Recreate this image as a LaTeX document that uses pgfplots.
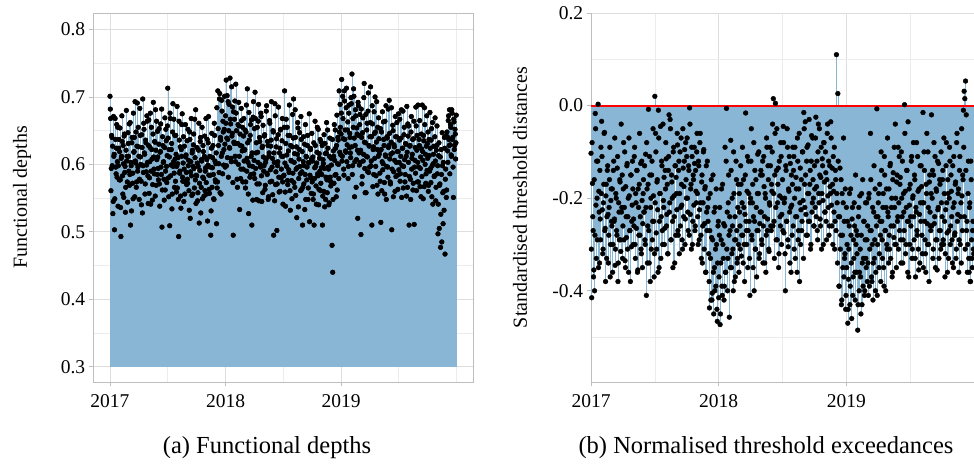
\documentclass[border=0pt]{standalone}
\usepackage{fontspec}
\setmainfont{Liberation Serif}
\usepackage{pgfplots}
\usepackage{pgfplotstable}
\pgfplotsset{compat=1.18}
\definecolor{stemc}{RGB}{138,182,213}
\definecolor{gridmaj}{RGB}{222,222,222}
\definecolor{gridmin}{RGB}{236,236,236}
\definecolor{framec}{RGB}{190,190,190}
% Panel (a): functional depths, even days from 1 Jan 2017
\pgfplotstableread{
v
.701
.668
.594
.640
.627
.545
.612
.503
.668
.596
.624
.581
.655
.598
.637
.619
.577
.493
.612
.634
.556
.601
.642
.588
.529
.621
.605
.574
.647
.612
.660
.585
.510
.598
.632
.572
.549
.618
.640
.693
.602
.566
.627
.590
.655
.612
.578
.643
.600
.540
.625
.697
.588
.652
.615
.571
.632
.599
.664
.583
.628
.557
.604
.676
.590
.622
.547
.645
.611
.586
.633
.681
.569
.607
.649
.594
.630
.571
.618
.660
.585
.507
.641
.603
.578
.625
.562
.652
.597
.613
.713
.580
.622
.509
.668
.599
.631
.556
.690
.604
.587
.643
.575
.615
.597
.565
.610
.493
.636
.590
.553
.622
.659
.581
.602
.545
.627
.574
.611
.588
.635
.572
.598
.561
.648
.520
.604
.583
.617
.556
.629
.594
.667
.577
.542
.583
.602
.558
.621
.513
.591
.640
.566
.605
.549
.628
.579
.612
.561
.595
.573
.607
.516
.632
.584
.557
.596
.495
.624
.566
.610
.585
.548
.643
.577
.601
.512
.565
.709
.628
.588
.705
.640
.556
.695
.617
.664
.599
.652
.630
.672
.725
.639
.610
.693
.650
.625
.728
.660
.604
.642
.685
.495
.633
.667
.612
.719
.650
.578
.631
.600
.657
.533
.628
.593
.665
.620
.574
.642
.605
.622
.565
.648
.590
.712
.603
.527
.636
.581
.659
.612
.510
.597
.670
.586
.653
.707
.594
.632
.571
.618
.664
.546
.640
.600
.676
.583
.625
.558
.611
.598
.644
.569
.607
.687
.585
.628
.552
.617
.661
.592
.636
.575
.609
.650
.495
.603
.690
.570
.626
.502
.598
.644
.581
.617
.560
.652
.593
.635
.574
.612
.584
.709
.559
.631
.597
.655
.570
.620
.588
.643
.532
.606
.576
.626
.587
.697
.603
.566
.640
.593
.521
.615
.654
.579
.622
.597
.561
.637
.589
.510
.604
.571
.630
.585
.548
.611
.596
.643
.565
.602
.515
.624
.580
.608
.574
.611
.556
.510
.595
.628
.568
.602
.655
.583
.540
.616
.590
.561
.633
.585
.510
.607
.560
.594
.631
.548
.617
.577
.651
.596
.540
.612
.581
.568
.599
.480
.440
.620
.572
.606
.651
.585
.628
.562
.640
.600
.709
.618
.655
.645
.726
.612
.668
.593
.709
.637
.620
.684
.604
.651
.579
.676
.625
.640
.610
.690
.734
.598
.655
.701
.552
.628
.672
.607
.645
.520
.687
.617
.659
.603
.496
.640
.582
.669
.615
.720
.594
.632
.558
.651
.611
.679
.588
.627
.641
.715
.605
.510
.660
.622
.585
.646
.700
.597
.633
.569
.655
.612
.638
.620
.575
.514
.648
.604
.592
.663
.628
.556
.614
.687
.597
.639
.581
.625
.695
.608
.571
.633
.503
.617
.650
.589
.626
.560
.641
.603
.662
.584
.619
.592
.636
.575
.612
.681
.598
.624
.565
.644
.607
.585
.630
.553
.618
.660
.603
.510
.627
.578
.648
.593
.615
.562
.638
.511
.606
.587
.657
.621
.574
.688
.596
.628
.567
.611
.645
.582
.619
.549
.635
.684
.600
.572
.627
.591
.609
.560
.637
.590
.624
.573
.653
.598
.541
.615
.582
.641
.605
.566
.628
.586
.497
.613
.505
.571
.477
.622
.485
.598
.512
.560
.640
.467
.593
.551
.648
.620
.665
.637
.681
.629
.655
.612
.676
.640
.551
.663
.628
.645
.632
}\dA
% Panel (a): odd days
\pgfplotstableread{
v
.682
.561
.643
.598
.527
.671
.615
.549
.637
.586
.659
.604
.538
.624
.577
.654
.536
.609
.672
.583
.628
.551
.645
.597
.566
.680
.612
.544
.631
.590
.569
.662
.603
.531
.640
.587
.676
.619
.552
.605
.648
.574
.691
.596
.626
.548
.683
.611
.575
.644
.528
.598
.661
.617
.556
.636
.589
.672
.603
.542
.666
.580
.625
.541
.655
.608
.570
.692
.593
.634
.553
.621
.664
.585
.611
.577
.653
.538
.619
.596
.682
.562
.628
.604
.547
.669
.590
.635
.573
.657
.639
.552
.611
.676
.583
.622
.534
.648
.597
.667
.566
.608
.643
.559
.686
.601
.548
.664
.587
.626
.535
.612
.675
.575
.641
.593
.556
.659
.614
.570
.578
.652
.606
.532
.637
.589
.668
.554
.621
.597
.645
.565
.610
.681
.584
.625
.546
.597
.661
.572
.634
.528
.607
.655
.581
.619
.553
.642
.590
.668
.556
.637
.599
.671
.563
.612
.584
.531
.646
.595
.628
.549
.661
.605
.574
.617
.684
.574
.653
.601
.697
.558
.636
.612
.679
.586
.648
.622
.701
.596
.661
.598
.702
.637
.581
.689
.624
.667
.609
.715
.646
.573
.678
.631
.694
.604
.676
.631
.566
.659
.692
.612
.645
.579
.683
.627
.655
.593
.668
.621
.651
.574
.688
.609
.632
.556
.677
.598
.643
.585
.666
.617
.547
.693
.606
.579
.668
.617
.548
.655
.603
.689
.571
.634
.596
.671
.545
.627
.658
.590
.642
.563
.603
.679
.587
.634
.548
.612
.665
.574
.627
.693
.596
.555
.648
.617
.546
.672
.589
.638
.571
.604
.685
.559
.624
.651
.580
.612
.668
.541
.583
.655
.602
.538
.667
.614
.576
.643
.592
.688
.561
.628
.605
.549
.674
.639
.573
.616
.681
.554
.626
.595
.662
.537
.608
.647
.586
.671
.563
.619
.566
.641
.598
.533
.659
.612
.577
.628
.548
.603
.675
.584
.622
.557
.646
.605
.548
.632
.579
.664
.597
.541
.618
.586
.652
.563
.609
.637
.572
.595
.628
.553
.601
.644
.537
.616
.581
.662
.558
.624
.593
.543
.639
.575
.609
.571
.637
.548
.612
.659
.584
.624
.552
.673
.601
.636
.579
.648
.689
.614
.676
.605
.701
.638
.584
.694
.651
.618
.713
.629
.663
.597
.688
.646
.617
.699
.626
.585
.668
.712
.639
.604
.681
.566
.654
.621
.692
.643
.599
.674
.621
.682
.571
.647
.605
.699
.633
.558
.674
.612
.661
.589
.706
.628
.596
.662
.598
.641
.687
.567
.626
.678
.609
.648
.583
.693
.622
.556
.669
.615
.587
.653
.622
.561
.678
.601
.637
.573
.664
.612
.548
.641
.596
.682
.628
.646
.574
.615
.684
.593
.658
.552
.629
.606
.671
.582
.641
.619
.563
.675
.603
.667
.586
.639
.551
.624
.679
.597
.655
.574
.631
.612
.686
.566
.642
.657
.582
.628
.548
.671
.609
.637
.572
.664
.596
.625
.685
.561
.643
.603
.574
.637
.665
.594
.552
.623
.688
.606
.643
.567
.659
.615
.586
.672
.631
.648
.569
.613
.677
.594
.636
.552
.662
.601
.627
.583
.669
.546
.621
.657
.598
.541
.632
.569
.611
.526
.585
.647
.558
.603
.532
.624
.578
.642
.562
.641
.603
.672
.628
.586
.659
.614
.681
.637
.596
.667
.622
.652
.608
.673
}\dAo
% Panel (b): standardised threshold distances, even days
\pgfplotstableread{
v
-.103
-.415
-.168
-.27
-.355
-.40
-.017
-.215
-.12
-.29
.003
-.185
-.34
-.245
-.09
-.034
-.225
-.31
-.17
-.058
-.265
-.195
-.33
-.14
-.235
-.28
-.16
-.37
-.205
-.25
-.18
-.30
-.12
-.245
-.345
-.19
-.27
-.135
-.38
-.21
-.29
-.165
-.315
-.23
-.15
-.26
-.08
-.22
-.335
-.175
-.285
-.125
-.24
-.36
-.195
-.27
-.15
-.305
-.215
-.18
-.245
-.11
-.30
-.19
-.265
-.14
-.355
-.22
-.17
-.28
-.125
-.32
-.205
-.255
-.16
-.23
-.29
-.105
-.41
-.18
-.26
-.008
-.34
-.15
-.22
-.31
-.12
-.25
-.195
-.37
.02
-.06
-.275
-.165
-.225
-.01
-.35
-.19
-.045
-.24
-.13
-.30
-.205
-.155
-.265
-.18
-.115
-.235
-.32
-.14
-.02
-.21
-.05
-.29
-.165
-.25
-.10
-.195
-.34
-.13
-.155
-.225
-.085
-.28
-.12
-.19
-.26
-.07
-.215
-.31
-.135
-.175
-.095
-.245
-.16
-.11
-.20
-.27
-.14
-.005
-.235
-.17
-.09
-.30
-.15
-.215
-.125
-.26
-.185
-.10
-.19
-.30
-.13
-.225
-.06
-.28
-.165
-.34
-.21
-.095
-.255
-.175
-.36
-.23
-.12
-.25
-.32
-.437
-.19
-.42
-.285
-.405
-.15
-.45
-.35
-.22
-.39
-.30
-.466
-.26
-.415
-.28
-.473
-.34
-.18
-.41
-.30
-.255
-.39
-.09
-.36
-.006
-.23
-.33
-.15
-.457
-.27
-.075
-.35
-.20
-.31
-.10
-.38
-.24
-.29
-.16
-.34
-.22
-.30
-.19
-.26
-.13
-.325
-.21
-.28
-.16
-.30
-.235
-.016
-.27
-.185
-.35
-.12
-.25
-.41
-.20
-.05
-.29
-.17
-.24
-.40
-.14
-.31
-.22
-.27
-.105
-.19
-.33
-.255
-.15
-.23
-.30
-.12
-.26
-.175
-.34
-.20
-.28
-.09
-.245
-.16
-.315
-.215
-.13
-.27
-.185
-.04
.015
-.25
-.15
.005
-.29
-.05
-.21
-.135
-.32
-.195
-.26
-.11
-.235
-.16
-.045
-.275
-.20
-.40
-.14
-.25
-.09
-.305
-.185
-.23
-.125
-.36
-.215
-.17
-.26
-.11
-.20
-.33
-.155
-.24
-.07
-.29
-.18
-.38
-.135
-.225
-.27
-.10
-.205
-.015
-.17
-.035
-.235
-.12
-.28
-.085
-.19
-.25
-.14
-.30
-.065
-.21
-.16
-.26
-.13
-.22
-.025
-.175
-.27
-.10
-.19
-.05
-.245
-.155
-.31
-.115
-.205
-.08
-.165
-.23
-.145
-.29
-.06
-.195
-.12
-.26
-.175
-.035
-.215
-.135
-.30
-.185
-.09
-.25
-.16
.11
-.21
.026
-.24
-.39
-.135
-.28
-.43
-.19
-.35
-.07
-.25
-.32
-.44
-.22
-.30
-.47
-.375
-.26
-.43
-.18
-.34
-.245
-.41
-.29
-.21
-.36
-.15
-.27
-.32
-.485
-.24
-.40
-.195
-.37
-.28
-.43
-.16
-.33
-.25
-.40
-.21
-.35
-.29
-.26
-.41
-.19
-.31
-.06
-.27
-.38
-.22
-.34
-.13
-.29
-.40
-.24
-.007
-.30
-.21
-.35
-.17
-.28
-.10
-.25
-.33
-.19
-.39
-.15
-.27
-.22
-.30
-.07
-.24
-.18
-.31
-.125
-.26
-.20
-.36
-.145
-.285
-.22
-.04
-.30
-.165
-.25
-.09
-.21
-.27
-.155
-.34
-.20
-.12
-.29
-.23
.002
-.185
-.30
-.14
-.25
-.035
-.37
-.215
-.17
-.26
-.11
-.31
-.195
-.24
-.15
-.33
-.22
-.08
-.28
-.185
-.355
-.235
-.13
-.25
-.175
-.32
-.015
-.21
-.14
-.29
-.36
-.19
-.255
-.10
-.30
-.165
-.23
-.27
-.02
-.20
-.33
-.15
-.255
-.11
-.29
-.185
-.355
-.225
-.125
-.27
-.17
-.31
-.21
-.24
-.14
-.30
-.19
-.37
-.225
-.08
-.275
-.16
-.33
-.20
-.12
-.26
-.185
-.29
-.13
-.35
-.21
-.275
-.165
-.31
-.06
-.235
-.18
-.29
-.11
-.24
-.34
-.195
-.15
-.01
.031
.015
.053
-.02
-.25
-.30
-.12
-.36
-.21
-.38
-.16
-.33
-.27
-.31
}\dB
% Panel (b): odd days
\pgfplotstableread{
v
-.31
-.08
-.24
-.37
-.16
-.28
-.05
-.33
-.20
-.12
-.35
-.23
-.14
-.29
-.19
-.11
-.32
-.21
-.06
-.27
-.38
-.17
-.24
-.13
-.34
-.22
-.09
-.30
-.18
-.26
-.36
-.14
-.25
-.07
-.31
-.20
-.28
-.11
-.34
-.23
-.16
-.29
-.04
-.22
-.33
-.18
-.29
-.10
-.35
-.24
-.13
-.31
-.20
-.07
-.27
-.38
-.15
-.25
-.12
-.30
-.26
-.09
-.33
-.21
-.14
-.36
-.18
-.28
-.06
-.24
-.31
-.12
-.35
-.19
-.23
-.13
-.30
-.22
-.08
-.34
-.17
-.27
-.11
-.38
-.20
-.15
-.29
-.05
-.25
-.32
-.21
-.10
-.31
-.16
-.36
-.07
-.25
-.19
-.33
-.12
-.27
-.04
-.22
-.30
-.14
-.08
-.26
-.17
-.32
-.11
-.23
-.03
-.29
-.15
-.20
-.35
-.09
-.24
-.13
-.28
-.19
-.06
-.27
-.14
-.32
-.10
-.22
-.17
-.29
-.05
-.24
-.12
-.30
-.08
-.20
-.07
-.23
-.13
-.28
-.04
-.18
-.31
-.11
-.25
-.16
-.09
-.27
-.14
-.21
-.06
-.24
-.12
-.29
-.08
-.21
-.33
-.15
-.26
-.10
-.31
-.18
-.36
-.13
-.27
-.22
-.20
-.38
-.27
-.33
-.16
-.42
-.29
-.36
-.23
-.40
-.31
-.18
-.44
-.34
-.25
-.37
-.22
-.45
-.29
-.39
-.17
-.33
-.42
-.26
-.36
-.12
-.31
-.40
-.21
-.28
-.24
-.35
-.14
-.32
-.26
-.40
-.19
-.29
-.37
-.12
-.27
-.33
-.17
-.36
-.23
-.31
-.17
-.28
-.09
-.34
-.22
-.38
-.15
-.25
-.30
-.11
-.27
-.19
-.33
-.21
-.12
-.28
-.21
-.35
-.08
-.25
-.31
-.16
-.37
-.19
-.27
-.10
-.32
-.23
-.14
-.29
-.15
-.34
-.11
-.24
-.19
-.36
-.07
-.27
-.13
-.31
-.21
-.09
-.26
-.17
-.10
-.26
-.19
-.33
-.06
-.22
-.14
-.29
-.17
-.35
-.12
-.24
-.08
-.30
-.20
-.27
-.08
-.21
-.32
-.13
-.25
-.05
-.29
-.18
-.11
-.34
-.22
-.15
-.28
-.09
-.14
-.31
-.09
-.24
-.18
-.36
-.12
-.27
-.06
-.21
-.30
-.16
-.25
-.10
-.33
-.05
-.22
-.15
-.28
-.09
-.19
-.25
-.03
-.17
-.31
-.12
-.23
-.07
-.20
-.26
-.18
-.07
-.24
-.12
-.29
-.04
-.21
-.15
-.26
-.09
-.19
-.13
-.30
-.08
-.23
-.10
-.25
-.16
-.04
-.22
-.28
-.13
-.19
-.07
-.26
-.17
-.11
-.23
-.31
-.14
-.27
-.19
-.34
-.12
-.39
-.24
-.31
-.16
-.42
-.28
-.21
-.37
-.33
-.18
-.41
-.35
-.25
-.44
-.31
-.19
-.39
-.28
-.46
-.22
-.37
-.33
-.26
-.42
-.30
-.36
-.28
-.43
-.22
-.36
-.31
-.45
-.19
-.34
-.39
-.25
-.41
-.29
-.33
-.21
-.38
-.34
-.20
-.39
-.27
-.16
-.37
-.30
-.42
-.23
-.33
-.18
-.36
-.26
-.41
-.24
-.19
-.32
-.25
-.38
-.14
-.29
-.22
-.35
-.11
-.27
-.40
-.18
-.31
-.23
-.34
-.28
-.13
-.33
-.22
-.37
-.16
-.26
-.09
-.30
-.20
-.35
-.15
-.24
-.31
-.11
-.17
-.29
-.10
-.24
-.34
-.19
-.27
-.06
-.32
-.22
-.14
-.36
-.25
-.18
-.30
-.24
-.12
-.33
-.20
-.08
-.29
-.16
-.37
-.23
-.27
-.11
-.31
-.18
-.34
-.21
-.13
-.28
-.21
-.35
-.10
-.25
-.32
-.17
-.06
-.30
-.22
-.38
-.15
-.26
-.19
-.26
-.14
-.31
-.08
-.24
-.35
-.18
-.29
-.12
-.22
-.33
-.16
-.27
-.10
-.30
-.16
-.29
-.07
-.25
-.32
-.13
-.21
-.36
-.19
-.27
-.09
-.30
-.15
-.24
-.34
-.22
-.11
-.28
-.17
-.33
-.08
-.25
-.19
-.36
-.14
-.30
-.21
-.05
-.27
-.16
-.09
-.24
-.31
-.14
-.27
-.36
-.19
-.33
-.22
-.38
-.12
-.29
-.35
-.25
-.32
}\dBo
\pgfplotsset{
  panel/.style={
    scale only axis,
    width=#1,
    height=369bp,
    tick label style={font=\fontsize{19.5bp}{22bp}\selectfont, text=black},
    xticklabel style={yshift=-5bp},
    label style={font=\fontsize{20bp}{24bp}\selectfont},
    xtick={0,365,730},
    xticklabels={\textrm{2017},\textrm{2018},\textrm{2019}},
    grid=both,
    major grid style={gridmaj, line width=0.9bp},
    minor grid style={gridmin, line width=0.6bp},
    axis line style={framec, line width=0.9bp},
    tick style={framec, line width=0.9bp},
    tick align=outside,
    major tick length=4.3bp,
    minor tick length=0pt,
    xtick pos=bottom,
    ytick pos=left,
  },
}
\begin{document}
\begin{tikzpicture}
\path[use as bounding box] (0,0) rectangle (974bp,465bp);
% ---------- (a) ----------
\begin{axis}[panel=380bp,
  at={(93bp,83bp)}, anchor=south west,
  xmin=-53.7, xmax=1147,
  ymin=0.2773, ymax=0.8245,
  ytick={0.3,0.4,0.5,0.6,0.7,0.8},
  yticklabels={\textrm{0.3},\textrm{0.4},\textrm{0.5},\textrm{0.6},\textrm{0.7},\textrm{0.8}},
  minor xtick={182.5,547.5,912.5,1095},
  minor ytick={0.35,0.45,0.55,0.65,0.75},
  ylabel={Functional depths},
  ylabel style={at={(axis description cs:-0.187,0.5)}, anchor=center},
]
\addplot[only marks, mark=none, forget plot,
  error bars/.cd, y dir=minus, y explicit, error mark=none,
  error bar style={stemc, line width=0.45bp}]
  table[x expr=\coordindex*2.028, y=v, y error expr=\thisrow{v}-0.3] {\dA};
\addplot[only marks, mark=none, forget plot,
  error bars/.cd, y dir=minus, y explicit, error mark=none,
  error bar style={stemc, line width=0.45bp}]
  table[x expr=\coordindex*2.028+1.014, y=v, y error expr=\thisrow{v}-0.3] {\dAo};
\addplot[only marks, mark=*, mark size=2.4bp, black, forget plot] table[x expr=\coordindex*2.028, y=v] {\dA};
\addplot[only marks, mark=*, mark size=2.4bp, black] table[x expr=\coordindex*2.028+1.014, y=v] {\dAo};
\end{axis}
% ---------- (b) ----------
\begin{axis}[panel=383bp,
  at={(591bp,83bp)}, anchor=south west,
  axis x line*=bottom, axis y line*=left,
  xmin=0, xmax=1095,
  ymin=-0.597, ymax=0.2,
  ytick={-0.4,-0.2,0,0.2},
  yticklabels={\textrm{-0.4},\textrm{-0.2},\textrm{0.0},\textrm{0.2}},
  minor xtick={182.5,547.5,912.5},
  minor ytick={-0.5,-0.3,-0.1,0.1},
  ylabel={Standardised threshold distances},
  ylabel style={at={(axis description cs:-0.185,0.5)}, anchor=center},
]
\addplot[ycomb, mark=none, stemc, line width=0.45bp, forget plot] table[x expr=\coordindex*2.028, y=v] {\dB};
\addplot[ycomb, mark=none, stemc, line width=0.45bp, forget plot] table[x expr=\coordindex*2.028+1.014, y=v] {\dBo};
\addplot[red, line width=2bp, forget plot] coordinates {(0,0) (1095,0)};
\addplot[only marks, mark=*, mark size=2.4bp, black, forget plot] table[x expr=\coordindex*2.028, y=v] {\dB};
\addplot[only marks, mark=*, mark size=2.4bp, black] table[x expr=\coordindex*2.028+1.014, y=v] {\dBo};
\end{axis}
\node[font=\fontsize{24.5bp}{28bp}\selectfont] at (267bp,17bp) {(a) Functional depths};
\node[font=\fontsize{24.5bp}{28bp}\selectfont] at (766bp,17bp) {(b) Normalised threshold exceedances};
\end{tikzpicture}
\end{document}
